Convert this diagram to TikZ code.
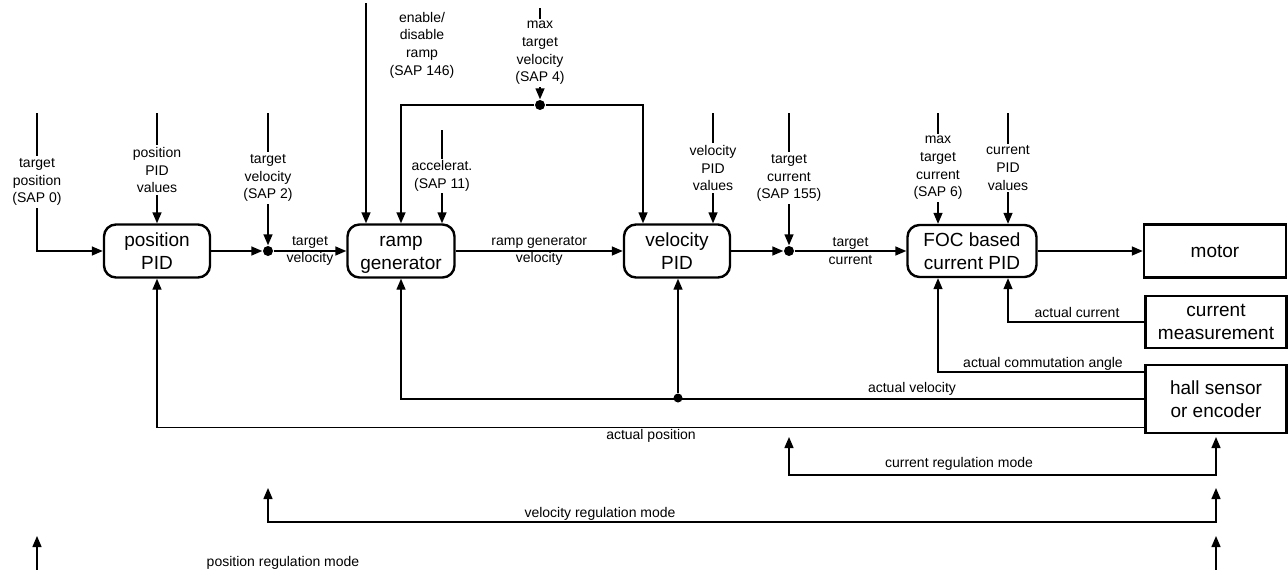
\documentclass[tikz,border=0pt]{standalone}
\usepackage{fontspec}
\setmainfont{Liberation Sans}
\usetikzlibrary{arrows.meta}

\tikzset{
    block/.style={draw, line width=2.4pt, rounded corners=12pt, align=center, inner sep=0pt, font=\fontsize{19}{23}\selectfont},
    plant/.style={block, sharp corners},
    lbl/.style={align=center, inner sep=1pt, font=\fontsize{14}{17.7}\selectfont},
    cut/.style={lbl, fill=white, inner sep=2pt},
    dot/.style={circle, fill, inner sep=0pt, minimum size=10pt}
}

\begin{document}
\begin{tikzpicture}[x=1pt, y=-1pt, line width=1.4pt, >={Triangle[length=11pt,width=9pt]}]
        \useasboundingbox (0,0) rectangle (1288,570);
        \clip (0,0) rectangle (1288,570);

        % blocks
        \node[block, minimum width=106pt, minimum height=53pt] (posPID) at (157,251) {position\\PID};
        \node[block, minimum width=107pt, minimum height=53pt] (ramp) at (401,251) {\vphantom{h}ramp\\\smash{generator}};
        \node[block, minimum width=106pt, minimum height=53pt] (velPID) at (677,251) {velocity\\PID};
        \node[block, minimum width=129pt, minimum height=52pt] (curPID) at (972,251) {FOC based\\current PID};
        \node[plant, minimum width=142pt, minimum height=53pt] (motor) at (1215,251) {motor};
        \node[plant, minimum width=141pt, minimum height=52pt] (meas) at (1216,322) {current\\measurement};
        \node[plant, minimum width=141pt, minimum height=68pt] (hall) at (1216,399) {hall sensor\\or encoder};

        % junctions
        \node[dot] (jv) at (268,251) {};
        \node[dot] (jmax) at (540,105) {};
        \node[dot] (jc) at (789,251) {};
        \node[dot, minimum size=9pt] (ja) at (678,398) {};

        % free ends of the inputs
        \coordinate (tpos) at (37,113);
        \coordinate (pval) at (157,113);
        \coordinate (tvel) at (268,113);
        \coordinate (en) at (366,3);
        \coordinate (acc) at (442,130);
        \coordinate (vmax) at (540,8);
        \coordinate (vval) at (713,113);
        \coordinate (tcur) at (789,113);
        \coordinate (cmax) at (938,113);
        \coordinate (cval) at (1008,113);

        % position loop
        \draw[->] (tpos) |- (posPID.west);
        \node[cut] (tposL) at (37,182) {target\\position\\(SAP 0)};
        \draw[->] (pval) -- (posPID.north);
        \node[cut] (pvalL) at (157,170) {position\\PID\\values};
        \draw[->] (tvel) -- (jv);
        \node[cut] (tvelL) at (268,178) {target\\velocity\\(SAP 2)};
        \draw[->] (posPID) -- (jv);
        \draw[->] (jv) -- (ramp) node[lbl, midway] (tvelM) {target\\velocity};

        % ramp
        \draw[->] (en) -- (en |- ramp.north);
        \node[lbl] (enL) at (422,45) {enable/\\disable\\ramp\\(SAP 146)};
        \draw[->] (acc) -- (acc |- ramp.north);
        \node[cut] (accL) at (442,176) {accelerat.\\(SAP 11)};
        \draw[->] (vmax) -- (jmax);
        \node[cut] (vmaxL) at (540,53) {max\\target\\velocity\\(SAP 4)};
        \draw[->] (jmax) -| (ramp.north);
        \draw[->] (jmax) -| ([xshift=-34pt]velPID.north);
        \draw[->] (ramp) -- (velPID) node[lbl, midway] (rampM) {ramp generator\\velocity};

        % velocity loop
        \draw[->] (vval) -- (vval |- velPID.north);
        \node[cut] (vvalL) at (713,168) {velocity\\PID\\values};
        \draw[->] (tcur) -- (jc);
        \node[cut] (tcurL) at (789,178) {target\\current\\(SAP 155)};
        \draw[->] (velPID) -- (jc);
        \draw[->] (jc) -- (curPID) node[lbl, midway] (tcurM) {target\\current};

        % current loop
        \draw[->] (cmax) -- (cmax |- curPID.north);
        \node[cut] (cmaxL) at (938,168) {max\\target\\current\\(SAP 6)};
        \draw[->] (cval) -- (cval |- curPID.north);
        \node[cut] (cvalL) at (1008,168) {current\\PID\\values};
        \draw[->] (curPID) -- (motor);

        % feedback
        \draw[->] (meas.west) -| (cval |- curPID.south);
        \node[lbl] (acurL) at (1077,312) {actual current};
        \draw[->] ([yshift=-8pt]hall.north west) -| (cmax |- curPID.south);
        \node[lbl] (angL) at (1043,364) {actual commutation angle};
        \draw[->] (hall.west) -| (ramp.south);
        \draw[->] (ja) -- (ja |- velPID.south);
        \node[lbl] (avelL) at (912,389) {actual velocity};
        \draw[->] ([yshift=7pt]hall.south west) -| (posPID.south);
        \node[lbl] (aposL) at (651,436) {actual position};

        % regulation modes
        \coordinate (cm1) at (789,437);
        \coordinate (cm2) at (1216,437);
        \coordinate (vm1) at (268,488);
        \coordinate (vm2) at (1216,488);
        \coordinate (pm1) at (37,536);
        \coordinate (pm2) at (1216,536);
        \draw[<->] (cm1) -- ++(0,38) -| (cm2);
        \node[lbl] (cmL) at (959,464) {current regulation mode};
        \draw[<->] (vm1) -- ++(0,34) -| (vm2);
        \node[lbl] (vmL) at (600,514) {velocity regulation mode};
        \draw[<->] (pm1) -- ++(0,44) -| (pm2); % cut off below
        \node[lbl] (pmL) at (283,563) {position regulation mode};
    \end{tikzpicture}
\end{document}
